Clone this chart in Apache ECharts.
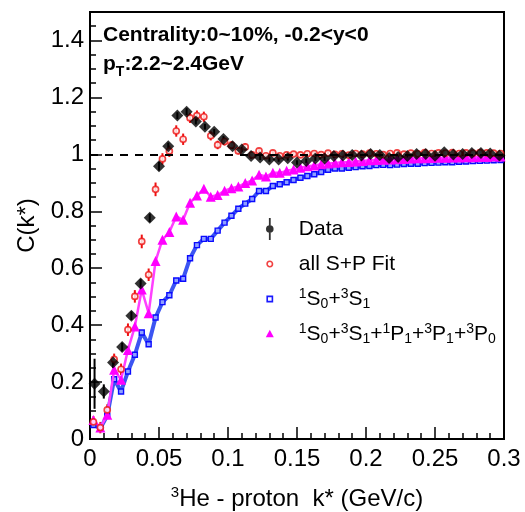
<!DOCTYPE html>
<html>
<head>
<meta charset="utf-8">
<script src="https://cdn.jsdelivr.net/npm/echarts@6/dist/echarts.min.js"></script>
<style>
  html, body { margin: 0; padding: 0; background: #fff; }
  #main { width: 525px; height: 512px; }
</style>
</head>
<body>
<div id="main"></div>
<script>
var chart = echarts.init(document.getElementById("main"), null, { renderer: "canvas" });

// data points (bin width 1/150 GeV/c)
let kData = [0.0033, 0.01, 0.0167, 0.0233, 0.03, 0.0367, 0.0433, 0.05, 0.0567, 0.0633,
  0.07, 0.0767, 0.0833, 0.09, 0.0967, 0.1033, 0.11, 0.1167, 0.1233, 0.13,
  0.1367, 0.1433, 0.15, 0.1567, 0.1633, 0.17, 0.1767, 0.1833, 0.19, 0.1967,
  0.2033, 0.21, 0.2167, 0.2233, 0.23, 0.2367, 0.2433, 0.25, 0.2567, 0.2633,
  0.27, 0.2767, 0.2833, 0.29, 0.2967];
let cData = [0.194, 0.167, 0.269, 0.323, 0.433, 0.546, 0.777, 0.958, 1.028, 1.136,
  1.150, 1.115, 1.097, 1.079, 1.054, 1.028, 1.017, 0.994, 0.989, 0.982,
  0.982, 0.986, 0.971, 0.977, 0.985, 0.985, 0.994, 0.996, 0.998, 0.996,
  1.001, 0.998, 0.987, 0.991, 0.994, 1.001, 1.001, 0.995, 1.007, 0.999,
  1.001, 1.005, 1.005, 1.003, 0.996];
let eData = [0.088, 0.025, 0.02, 0.015, 0.015, 0.015, 0.015, 0.015, 0.013, 0.012,
  0.012, 0.01, 0.01, 0.01, 0.01, 0.01, 0.009, 0.009, 0.009, 0.008,
  0.008, 0.008, 0.008, 0.008, 0.008, 0.008, 0.008, 0.008, 0.008, 0.008,
  0.008, 0.008, 0.008, 0.008, 0.008, 0.008, 0.008, 0.008, 0.008, 0.008,
  0.008, 0.008, 0.008, 0.008, 0.008];

// fits (bin width 0.005 GeV/c)
let kFit = [0.0025, 0.0075, 0.0125, 0.0175, 0.0225, 0.0275, 0.0325, 0.0375, 0.0425, 0.0475,
  0.0525, 0.0575, 0.0625, 0.0675, 0.0725, 0.0775, 0.0825, 0.0875, 0.0925, 0.0975,
  0.1025, 0.1075, 0.1125, 0.1175, 0.1225, 0.1275, 0.1325, 0.1375, 0.1425, 0.1475,
  0.1525, 0.1575, 0.1625, 0.1675, 0.1725, 0.1775, 0.1825, 0.1875, 0.1925, 0.1975,
  0.2025, 0.2075, 0.2125, 0.2175, 0.2225, 0.2275, 0.2325, 0.2375, 0.2425, 0.2475,
  0.2525, 0.2575, 0.2625, 0.2675, 0.2725, 0.2775, 0.2825, 0.2875, 0.2925, 0.2975];
let cAllSP = [0.06, 0.04, 0.102, 0.28, 0.245, 0.384, 0.501, 0.694, 0.577, 0.877,
  0.984, 1.011, 1.082, 1.053, 1.128, 1.136, 1.132, 1.065, 1.033, 1.045,
  1.032, 1.012, 1.026, 0.998, 1.012, 0.995, 1.005, 0.995, 0.998, 1.001,
  0.998, 1.002, 1.003, 0.999, 1.004, 1.0, 1.002, 0.997, 1.003, 1.001,
  1.004, 1.002, 0.999, 1.003, 1.005, 1.001, 1.004, 1.002, 1.006, 1.003,
  1.005, 1.004, 1.006, 1.003, 1.005, 1.004, 1.006, 1.005, 1.004, 1.003];
let eAllSP = [0.02, 0.02, 0.02, 0.02, 0.02, 0.022, 0.022, 0.024, 0.022, 0.024,
  0.02, 0.02, 0.02, 0.02, 0.018, 0.018, 0.018, 0.016, 0.015, 0.014,
  0.013, 0.012, 0.012, 0.011, 0.01, 0.01, 0.009, 0.009, 0.008, 0.008,
  0.008, 0.008, 0.008, 0.007, 0.007, 0.007, 0.007, 0.007, 0.007, 0.007,
  0.006, 0.006, 0.006, 0.006, 0.006, 0.006, 0.006, 0.006, 0.006, 0.006,
  0.006, 0.006, 0.006, 0.006, 0.006, 0.006, 0.006, 0.006, 0.006, 0.006];
let cS = [0.049, 0.038, 0.082, 0.210, 0.167, 0.237, 0.296, 0.374, 0.333, 0.427,
  0.481, 0.505, 0.557, 0.563, 0.635, 0.681, 0.703, 0.703, 0.732, 0.760,
  0.784, 0.809, 0.827, 0.843, 0.871, 0.871, 0.889, 0.895, 0.902, 0.910,
  0.918, 0.924, 0.930, 0.938, 0.946, 0.950, 0.950, 0.953, 0.955, 0.958,
  0.959, 0.962, 0.963, 0.962, 0.964, 0.966, 0.967, 0.967, 0.969, 0.970,
  0.971, 0.972, 0.972, 0.974, 0.975, 0.976, 0.977, 0.978, 0.979, 0.980];
let cSP = [0.067, 0.040, 0.085, 0.243, 0.208, 0.313, 0.395, 0.525, 0.442, 0.625,
  0.700, 0.727, 0.782, 0.770, 0.830, 0.855, 0.879, 0.851, 0.857, 0.872,
  0.881, 0.887, 0.899, 0.908, 0.928, 0.922, 0.935, 0.935, 0.942, 0.947,
  0.953, 0.958, 0.961, 0.965, 0.968, 0.970, 0.972, 0.973, 0.975, 0.977,
  0.979, 0.980, 0.981, 0.982, 0.983, 0.984, 0.985, 0.986, 0.986, 0.987,
  0.988, 0.988, 0.989, 0.989, 0.990, 0.990, 0.991, 0.991, 0.992, 0.992];

let legendNames = ["Data", "all S+P Fit", "1S0+3S1", "1S0+3S1+1P1+3P1+3P0"];
let legendLabels = {
  "Data": "Data",
  "all S+P Fit": "all S+P Fit",
  "1S0+3S1": "{sup|1}S{sub|0}+{sup|3}S{sub|1}",
  "1S0+3S1+1P1+3P1+3P0": "{sup|1}S{sub|0}+{sup|3}S{sub|1}+{sup|1}P{sub|1}+{sup|3}P{sub|1}+{sup|3}P{sub|0}"
};

const FONT = "Liberation Sans";

function pairs(xs, ys) {
  return xs.map((x, i) => [x, ys[i]]);
}
function triples(xs, ys, es) {
  return xs.map((x, i) => [x, ys[i], es[i]]);
}
function errorBars(name, xs, ys, es, color, width) {
  return {
    name: name + " err",
    type: "custom",
    data: triples(xs, ys, es),
    encode: { x: 0, y: 1 },
    clip: true,
    silent: true,
    renderItem: function (params, api) {
      let p1 = api.coord([api.value(0), api.value(1) + api.value(2)]);
      let p2 = api.coord([api.value(0), api.value(1) - api.value(2)]);
      return {
        type: "line",
        shape: { x1: p1[0], y1: p1[1], x2: p2[0], y2: p2[1] },
        style: { stroke: color, lineWidth: width }
      };
    }
  };
}

// legend icons, all in a 29x22 box so nothing gets stretched
const iconData = "path://M0,0M29,22M4.1,0H5.9V22H4.1ZM5,7.2A3.8,3.8 0 1 1 4.99,7.2Z";
const iconCircle = "path://M0,0M29,22M5,8.3A2.7,2.7 0 1 1 4.99,8.3Z";
const iconSquare = "path://M0,0M29,22M2.4,8.4H7.6V13.6H2.4Z";
const iconTri = "path://M0,0M29,22M5,6.8L9,14.2H1Z";

const richSmall = {
  sup: { fontSize: 14, fontFamily: FONT, verticalAlign: "top", lineHeight: 14 },
  sub: { fontSize: 14, fontFamily: FONT, verticalAlign: "bottom", lineHeight: 14 }
};

chart.setOption({
  animation: false,
  backgroundColor: "#fff",
  textStyle: { fontFamily: FONT, color: "#000" },
  grid: {
    left: 90, right: 21, top: 12, bottom: 73,
    show: true, borderColor: "#000", borderWidth: 2,
    outerBoundsMode: "none"
  },
  title: {
    left: 103, top: 21, padding: 0,
    text: "Centrality:0~10%, -0.2<y<0\np{tsub|T}:2.2~2.4GeV",
    textStyle: {
      fontSize: 21, fontWeight: "bold", fontFamily: FONT, color: "#000", lineHeight: 29,
      rich: {
        tsub: { fontSize: 14, fontWeight: "bold", fontFamily: FONT, verticalAlign: "bottom", lineHeight: 12 }
      }
    }
  },
  legend: {
    orient: "vertical",
    left: 264, top: 217, padding: 0,
    itemWidth: 29, itemHeight: 22, itemGap: 11,
    selectedMode: false,
    data: [
      { name: legendNames[0], icon: iconData, itemStyle: { color: "#000", borderWidth: 0 } },
      { name: legendNames[1], icon: iconCircle, itemStyle: { color: "#fff", borderColor: "#ee1111", borderWidth: 1.6 } },
      { name: legendNames[2], icon: iconSquare, itemStyle: { color: "#fff", borderColor: "#1a1aff", borderWidth: 1.6 } },
      { name: legendNames[3], icon: iconTri, itemStyle: { color: "#ff00ff", borderWidth: 0 } }
    ],
    formatter: function (name) { return legendLabels[name]; },
    textStyle: { fontSize: 21, fontFamily: FONT, color: "#000", lineHeight: 24, rich: richSmall }
  },
  xAxis: {
    type: "value", min: 0, max: 0.3, interval: 0.05,
    name: "{sup|3}He - proton  k* (GeV/c)",
    nameLocation: "middle", nameGap: 46,
    nameTextStyle: {
      fontSize: 24, fontFamily: FONT, color: "#000", lineHeight: 28,
      rich: { sup: { fontSize: 15, fontFamily: FONT, verticalAlign: "top", lineHeight: 15 } }
    },
    axisLine: { show: true, onZero: false, lineStyle: { color: "#000", width: 2 } },
    axisTick: { inside: true, length: 12, lineStyle: { color: "#000", width: 1.5 } },
    minorTick: { show: true, splitNumber: 5, length: 6, lineStyle: { color: "#000", width: 1.5 } },
    axisLabel: { fontSize: 24, fontFamily: FONT, color: "#000", margin: 8 },
    splitLine: { show: false }
  },
  yAxis: [
    {
      type: "value", min: 0, max: 1.5, interval: 0.2, position: "left",
      name: "C(k*)", nameLocation: "middle", nameGap: 46,
      nameTextStyle: { fontSize: 24, fontFamily: FONT, color: "#000" },
      axisLine: { show: true, onZero: false, lineStyle: { color: "#000", width: 2 } },
      axisTick: { inside: true, length: 12, lineStyle: { color: "#000", width: 1.5 } },
      axisLabel: { fontSize: 24, fontFamily: FONT, color: "#000", margin: 6, showMaxLabel: false },
      splitLine: { show: false }
    },
    {
      type: "value", min: 0, max: 1.5, interval: 0.05, position: "left", offset: 0,
      axisLine: { show: false },
      axisTick: { inside: true, length: 6, lineStyle: { color: "#000", width: 1.5 } },
      axisLabel: { show: false },
      splitLine: { show: false }
    }
  ],
  series: [
    {
      name: legendNames[2], type: "line", data: pairs(kFit, cS),
      symbol: "rect", symbolSize: 5, z: 2,
      lineStyle: { color: "#3c55f2", width: 4 },
      itemStyle: { color: "#8fa0ff", borderColor: "#0a0aff", borderWidth: 1.4 },
      markLine: {
        silent: true, symbol: "none", label: { show: false },
        lineStyle: { color: "#000", width: 2, type: [8, 7] },
        data: [{ yAxis: 1 }]
      }
    },
    {
      name: legendNames[3], type: "line", data: pairs(kFit, cSP),
      symbol: "triangle", symbolSize: 10, z: 3,
      lineStyle: { color: "#ff40ff", width: 2.5 },
      itemStyle: { color: "#ff00ff" }
    },
    errorBars("fit", kFit, cAllSP, eAllSP, "#ee1111", 2),
    {
      name: legendNames[1], type: "scatter", data: pairs(kFit, cAllSP),
      symbol: "circle", symbolSize: 6, z: 4,
      itemStyle: { color: "#fff", borderColor: "#ee1111", borderWidth: 1.7 }
    },
    errorBars("data", kData, cData, eData, "#000", 2),
    {
      name: legendNames[0], type: "scatter", data: pairs(kData, cData),
      symbol: "diamond", symbolSize: [12, 12], z: 5,
      itemStyle: { color: "#000" }
    }
  ]
});
</script>
</body>
</html>
